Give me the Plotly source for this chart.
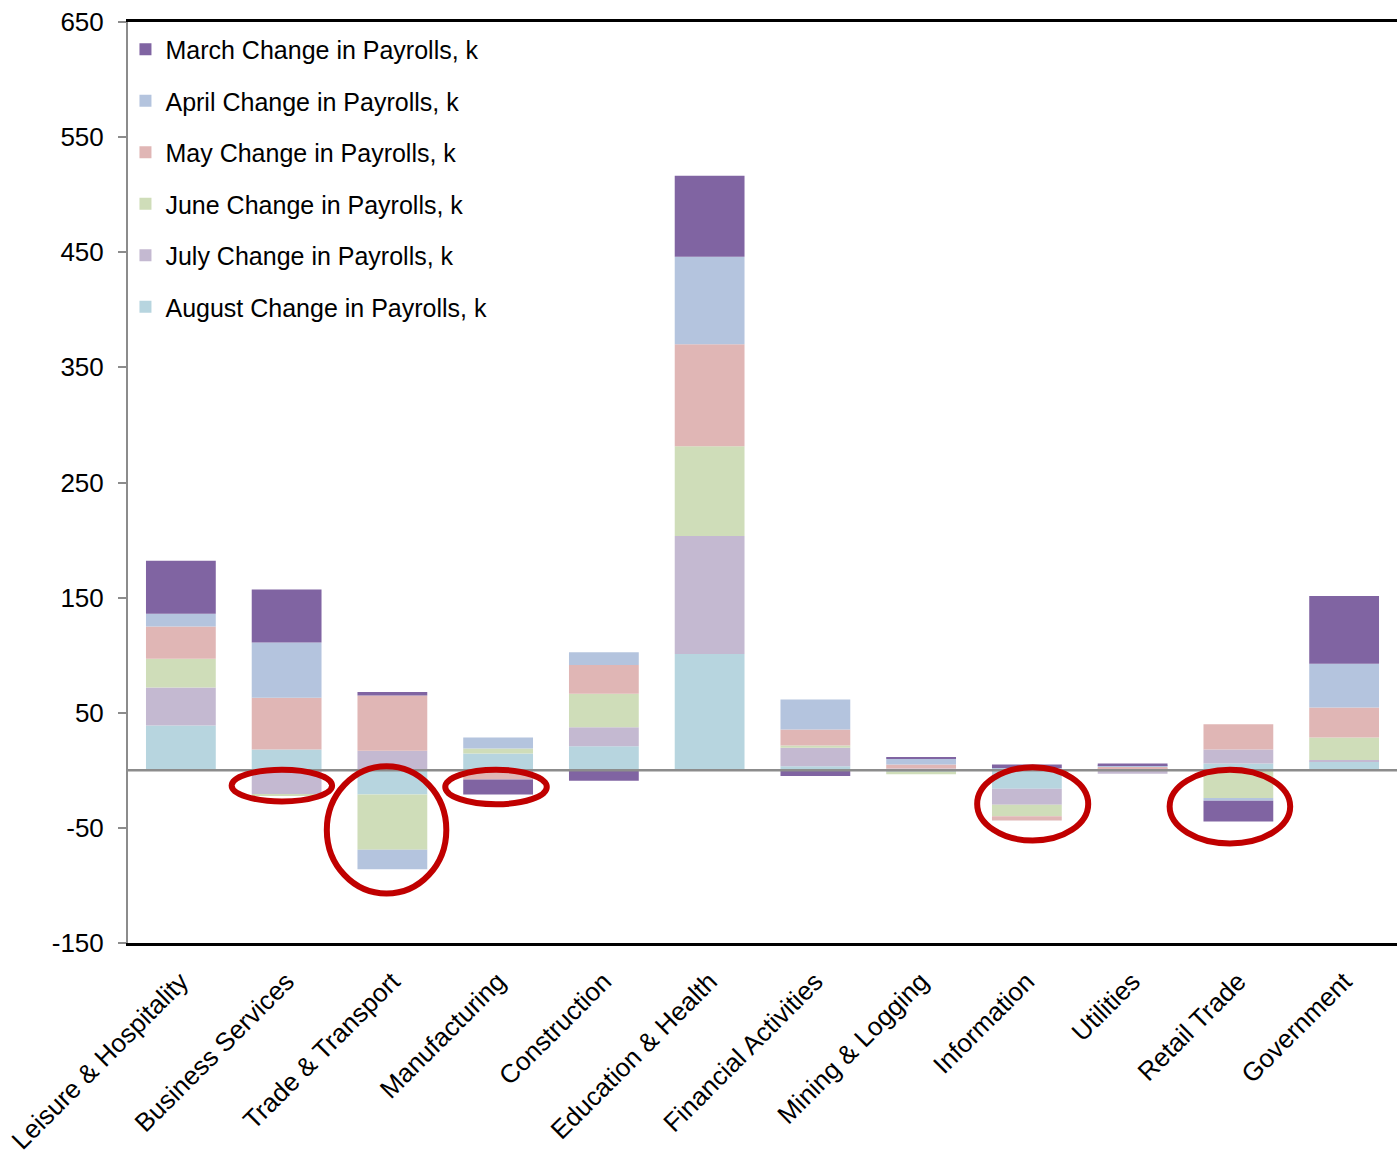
import plotly.graph_objects as go

# Sectors along the x axis
categories = [
    "Leisure & Hospitality", "Business Services", "Trade & Transport",
    "Manufacturing", "Construction", "Education & Health",
    "Financial Activities", "Mining & Logging", "Information",
    "Utilities", "Retail Trade", "Government",
]

# Monthly change in payrolls (thousands) per sector
march = [46, 46, 3, -13, -9, 70.5, -5, 1.5, 3, 1.5, -18, 59]
april = [11, 48, -17, 9.5, 11, 76, 26, 5, 2, 1.5, -2.5, 38]
may = [28, 45, 48, -6, 25, 88.5, 14, 3.5, -3.5, 1.5, 22, 26]
june = [25, -1, -48, 4.5, 29, 78, 2, -2.5, -10, 1, -24, 19.5]
july = [33, -21, 17, -2, 16.5, 102.5, 16, 1.5, -14, -3, 12, 1.5]
august = [39, 18, -21, 14.5, 21, 101, 3.5, -1, -16, 0.5, 6, 7.5]

# stacking order: August at the base, March on top
series_names = [
    "August Change in Payrolls, k", "July Change in Payrolls, k",
    "June Change in Payrolls, k", "May Change in Payrolls, k",
    "April Change in Payrolls, k", "March Change in Payrolls, k",
]
series_values = [august, july, june, may, april, march]
series_colors = ["#B7D5DF", "#C4B9D1", "#CFDDB9", "#E0B6B5", "#B4C4DE", "#8064A2"]
# legend lists March first
legend_ranks = [6, 5, 4, 3, 2, 1]

# y tick positions
y_ticks = [-150, -50, 50, 150, 250, 350, 450, 550, 650]

# Highlighted sectors: (x0, x1, y0, y1) in category-index / value units
highlights = [
    (0.48, 1.43, -27, 0.5),
    (1.38, 2.51, -107, 3.5),
    (2.50, 3.46, -29.5, 0.5),
    (7.53, 8.58, -61, 2.6),
    (9.35, 10.49, -63.5, 0.5),
]

FONT = "Liberation Sans, Arial, sans-serif"

fig = go.Figure()
for name, vals, col, rank in zip(series_names, series_values, series_colors, legend_ranks):
    fig.add_trace(go.Bar(
        x=categories, y=vals, name=name, legendgroup=name, legendrank=rank,
        marker=dict(color=col, line=dict(width=0)),
    ))

# zero line over the bars
fig.add_shape(type="line", xref="paper", yref="y", x0=0, x1=1, y0=0, y1=0,
              line=dict(color="#8C8C8C", width=2.5), layer="above")

for x0, x1, y0, y1 in highlights:
    fig.add_shape(type="circle", xref="x", yref="y", x0=x0, x1=x1, y0=y0, y1=y1,
                  line=dict(color="#C00000", width=6), layer="above")

fig.update_layout(
    width=1397, height=1158,
    margin=dict(l=128, r=0, t=22, b=215),
    paper_bgcolor="white", plot_bgcolor="white",
    barmode="relative", bargap=0.34,
    font=dict(family=FONT, color="black", size=25),
    showlegend=True,
    legend=dict(
        x=-0.002, y=0.995, xanchor="left", yanchor="top",
        traceorder="grouped", tracegroupgap=16,
        font=dict(family=FONT, size=25, color="black"),
        bgcolor="rgba(0,0,0,0)", itemwidth=30,
    ),
)
fig.update_xaxes(
    type="category", range=[-0.5, 11.5], automargin=False,
    showline=True, linecolor="black", linewidth=3, mirror=True,
    showgrid=False, ticks="", tickangle=-45,
    tickfont=dict(family=FONT, size=26, color="black"),
    ticklabelstandoff=10,
)
fig.update_yaxes(
    range=[-150, 650], tickvals=y_ticks, ticktext=[str(v) for v in y_ticks],
    automargin=False,
    showline=True, linecolor="#8C8C8C", linewidth=2,
    ticks="outside", ticklen=8, tickcolor="#8C8C8C", tickwidth=2,
    showgrid=False, zeroline=False,
    tickfont=dict(family=FONT, size=26, color="black"),
    ticklabelstandoff=9,
)

fig.write_html("out.html")
